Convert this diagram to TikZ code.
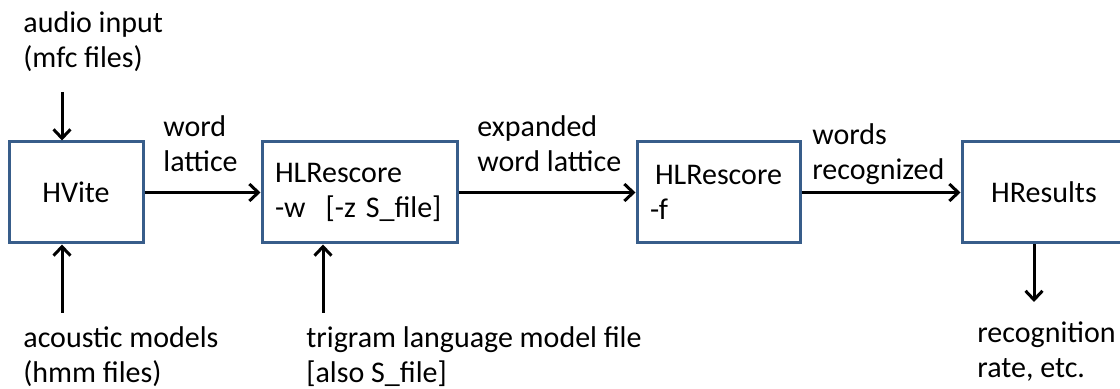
\documentclass[tikz,border=0pt]{standalone}
\usepackage{fontspec}
\setmainfont{Carlito}
\usetikzlibrary{arrows.meta}

\definecolor{boxblue}{RGB}{56,93,138}
\tikzstyle{every node} = [font=\fontsize{15}{17.5}\selectfont]
\tikzstyle{stage} = [draw=boxblue, line width=1.5pt, minimum height=50.5pt, inner sep=0pt]
\tikzstyle{label} = [anchor=base west, align=left, inner sep=0pt]
\tikzstyle{arr} = [line width=1.5pt, -{Straight Barb[length=4.5pt,width=8.5pt,line width=1.5pt]}]

\begin{document}
\begin{tikzpicture}[x=0.5pt,y=-0.5pt]
      \useasboundingbox (0,0) rectangle (1120,389);
      \node[stage, minimum width=67pt] (hvite) at (76,192.5) {HVite};
      \node[stage, text width=84.5pt, align=left, inner xsep=6.5pt] (hlrw) at (359.5,192.5) {HLRescore\\-w\ \ [-z S\_file]};
      \node[stage, text width=68.5pt, align=left, inner xsep=6.5pt] (hlrf) at (718.5,192.5) {\hspace*{2.5pt}HLRescore\\-f};
      \node[stage, minimum width=82pt] (hres) at (1044,192.5) {HResults};
      \node[label] (audio) at (23,68) {audio input\\(mfc files)};
      \node[label] (acoustic) at (23,383) {acoustic models\\(hmm files)};
      \node[label] (trigram) at (306,383) {trigram language model file\\{[also S\_file]}};
      \node[label] (rate) at (977,378) {recognition\\rate, etc.};
      \node[label] (lattice) at (163,172) {word\\lattice};
      \node[label] (expanded) at (477,172) {expanded\\word lattice};
      \node[label] (words) at (812,180) {words\\recognized};
      \coordinate (audiostart) at (62,92);
      \coordinate (acousticstart) at (62,313);
      \coordinate (trigramstart) at (323,313);
      \coordinate (rateend) at (1034,302);
      \draw[arr] (audiostart) -- (audiostart |- hvite.north);
      \draw[arr] (acousticstart) -- (acousticstart |- hvite.south);
      \draw[arr] (trigramstart) -- (trigramstart |- hlrw.south);
      \draw[arr] (rateend |- hres.south) -- (rateend);
      \draw[arr] (hvite.east) -- (hlrw.west);
      \draw[arr] (hlrw.east) -- (hlrf.west);
      \draw[arr] (hlrf.east) -- (hres.west);
    \end{tikzpicture}
\end{document}
